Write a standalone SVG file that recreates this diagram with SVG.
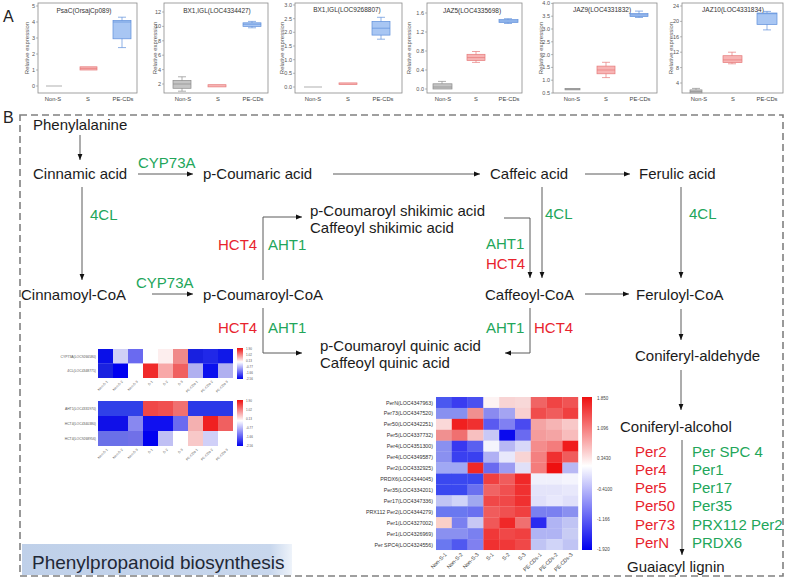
<svg xmlns="http://www.w3.org/2000/svg" width="788" height="581" viewBox="0 0 788 581">
<style>
.t{font-family:"Liberation Sans",Arial,sans-serif}
.m{font-size:15px;fill:#1b1b1b}
.g{font-size:15px;fill:#22a65a}
.r{font-size:15px;fill:#e8232d}
.pl{font-size:16px;fill:#222}
.ax{font-size:5.5px;fill:#555}
.axe{font-size:5.5px;fill:#555;text-anchor:end}
.axm{font-size:5.8px;fill:#444;text-anchor:middle}
.ttl{font-size:6.5px;fill:#333;text-anchor:middle}
.yt{font-size:6px;fill:#555;text-anchor:middle}
.fr{fill:none;stroke:#8a8a8a;stroke-width:0.8}
.tk{stroke:#8a8a8a;stroke-width:0.6}
.bxg{fill:#c4c4c4;stroke:#8c8c8c;stroke-width:0.7}
.bxr{fill:#f7b4b4;stroke:#e67a7a;stroke-width:0.7}
.bxb{fill:#a8c6f3;stroke:#5f8fdb;stroke-width:0.7}
.wg{stroke:#8c8c8c;stroke-width:0.7;fill:none}
.wr{stroke:#e67a7a;stroke-width:0.7;fill:none}
.wb{stroke:#5f8fdb;stroke-width:0.7;fill:none}
.conn path{fill:none;stroke:#5a5a5a;stroke-width:1;marker-end:url(#ah)}
.hl{font-size:5.3px;fill:#333;text-anchor:end}
.hs{font-size:3.4px;fill:#555;text-anchor:end}
.cb{font-size:4.5px;fill:#444}
.cbs{font-size:3px;fill:#555}
</style>
<defs>
<marker id="ah" viewBox="0 0 10 10" refX="10" refY="5" markerWidth="6" markerHeight="6" orient="auto"><path d="M0,1 L10,5 L0,9z" fill="#111"/></marker>
<linearGradient id="cbar" x1="0" y1="0" x2="0" y2="1"><stop offset="0" stop-color="#ee1010"/><stop offset="0.45" stop-color="#ffffff"/><stop offset="1" stop-color="#0000ee"/></linearGradient>
<linearGradient id="lab" x1="0" y1="0" x2="1" y2="0"><stop offset="0" stop-color="#bfd0e9"/><stop offset="0.92" stop-color="#c8d7ed"/><stop offset="1" stop-color="#eef3fa"/></linearGradient>
</defs>
<rect width="788" height="581" fill="#fff"/>

<!-- Panel A -->
<text class="t pl" x="3" y="22">A</text>

<g id="box-psac" class="t">
<rect class="fr" x="38" y="3" width="99" height="90"/>
<text class="ttl" x="84" y="13">PsaC(OrsajCp089)</text>
<text class="yt" transform="translate(29,48) rotate(-90)">Relative expression</text>
<g class="tk"><line x1="36" y1="86" x2="38" y2="86"/><line x1="36" y1="70" x2="38" y2="70"/><line x1="36" y1="54" x2="38" y2="54"/><line x1="36" y1="38" x2="38" y2="38"/><line x1="36" y1="22" x2="38" y2="22"/><line x1="36" y1="6" x2="38" y2="6"/></g>
<text class="axe" x="35" y="88">0</text><text class="axe" x="35" y="72">1</text><text class="axe" x="35" y="56">2</text><text class="axe" x="35" y="40">3</text><text class="axe" x="35" y="24">4</text><text class="axe" x="35" y="8">5</text>
<line class="wg" x1="46" y1="86" x2="62" y2="86"/>
<rect class="bxr" x="80" y="66.8" width="17" height="3.2"/><line class="wr" x1="80" y1="68.4" x2="97" y2="68.4"/>
<path class="wb" d="M122,17.2V47.6M118,17.2H126M118,47.6H126"/>
<rect class="bxb" x="113" y="20.4" width="18" height="18.4"/><line class="wb" x1="113" y1="22" x2="131" y2="22"/>
<text class="axm" x="53" y="101">Non-S</text><text class="axm" x="88" y="101">S</text><text class="axm" x="123" y="101">PE-CDs</text>
</g>

<g id="box-bx1-4334427" class="t">
<rect class="fr" x="164" y="3" width="104" height="90"/>
<text class="ttl" x="217" y="13">BX1,IGL(LOC4334427)</text>
<text class="yt" transform="translate(157,48) rotate(-90)">Relative expression</text>
<g class="tk"><line x1="162" y1="84" x2="164" y2="84"/><line x1="162" y1="69.6" x2="164" y2="69.6"/><line x1="162" y1="55.2" x2="164" y2="55.2"/><line x1="162" y1="40.8" x2="164" y2="40.8"/><line x1="162" y1="26.4" x2="164" y2="26.4"/><line x1="162" y1="12" x2="164" y2="12"/></g>
<text class="axe" x="161" y="86">2</text><text class="axe" x="161" y="71.6">4</text><text class="axe" x="161" y="57.2">6</text><text class="axe" x="161" y="42.8">8</text><text class="axe" x="161" y="28.4">10</text><text class="axe" x="161" y="14">12</text>
<path class="wg" d="M182,76.8V91.2M178,76.8H186M178,91.2H186"/>
<rect class="bxg" x="173" y="80.4" width="18" height="7.9"/><line class="wg" x1="173" y1="84" x2="191" y2="84"/>
<rect class="bxr" x="208" y="84.7" width="18" height="2.2"/>
<path class="wb" d="M252,21.4V27.8M248,21.4H256M248,27.8H256"/>
<rect class="bxb" x="243" y="22.8" width="18" height="3.6"/><line class="wb" x1="243" y1="24.2" x2="261" y2="24.2"/>
<text class="axm" x="183" y="101">Non-S</text><text class="axm" x="218" y="101">S</text><text class="axm" x="253" y="101">PE-CDs</text>
</g>

<g id="box-bx1-9268807" class="t">
<rect class="fr" x="295" y="3" width="107" height="90"/>
<text class="ttl" x="347" y="12">BX1,IGL(LOC9268807)</text>
<text class="yt" transform="translate(284,48) rotate(-90)">Relative expression</text>
<g class="tk"><line x1="293" y1="87" x2="295" y2="87"/><line x1="293" y1="73.3" x2="295" y2="73.3"/><line x1="293" y1="59.7" x2="295" y2="59.7"/><line x1="293" y1="46" x2="295" y2="46"/><line x1="293" y1="32.3" x2="295" y2="32.3"/><line x1="293" y1="18.7" x2="295" y2="18.7"/><line x1="293" y1="5" x2="295" y2="5"/></g>
<text class="axe" x="292" y="89">0.0</text><text class="axe" x="292" y="75.3">0.5</text><text class="axe" x="292" y="61.7">1.0</text><text class="axe" x="292" y="48">1.5</text><text class="axe" x="292" y="34.3">2.0</text><text class="axe" x="292" y="20.7">2.5</text><text class="axe" x="292" y="7">3.0</text>
<line class="wg" x1="304" y1="87" x2="322" y2="87"/>
<rect class="bxr" x="339" y="82.9" width="18" height="1.6"/>
<path class="wb" d="M381,17.3V39.2M377,17.3H385M377,39.2H385"/>
<rect class="bxb" x="372" y="21.4" width="18" height="13.7"/><line class="wb" x1="372" y1="28.2" x2="390" y2="28.2"/>
<text class="axm" x="313" y="101">Non-S</text><text class="axm" x="348" y="101">S</text><text class="axm" x="383" y="101">PE-CDs</text>
</g>

<g id="box-jaz5" class="t">
<rect class="fr" x="427" y="3" width="95" height="90"/>
<text class="ttl" x="472" y="13">JAZ5(LOC4335698)</text>
<text class="yt" transform="translate(411,48) rotate(-90)">Relative expression</text>
<g class="tk"><line x1="425" y1="89" x2="427" y2="89"/><line x1="425" y1="70" x2="427" y2="70"/><line x1="425" y1="51" x2="427" y2="51"/><line x1="425" y1="32" x2="427" y2="32"/><line x1="425" y1="13" x2="427" y2="13"/></g>
<text class="axe" x="424" y="91">0.0</text><text class="axe" x="424" y="72">0.4</text><text class="axe" x="424" y="53">0.8</text><text class="axe" x="424" y="34">1.2</text><text class="axe" x="424" y="15">1.6</text>
<path class="wg" d="M442,81.4V83.8M438,81.4H446"/>
<rect class="bxg" x="433" y="83.8" width="19" height="5.2"/><line class="wg" x1="433" y1="87" x2="452" y2="87"/>
<path class="wr" d="M476,51.5V62.4M472,51.5H480M472,62.4H480"/>
<rect class="bxr" x="467" y="54.3" width="18" height="6.2"/><line class="wr" x1="467" y1="57.6" x2="485" y2="57.6"/>
<path class="wb" d="M508,18.7V23.5M504,18.7H512M504,23.5H512"/>
<rect class="bxb" x="499" y="19.6" width="19" height="2.9"/><line class="wb" x1="499" y1="21" x2="518" y2="21"/>
<text class="axm" x="443" y="101">Non-S</text><text class="axm" x="476" y="101">S</text><text class="axm" x="509" y="101">PE-CDs</text>
</g>

<g id="box-jaz9" class="t">
<rect class="fr" x="553" y="3" width="104" height="90"/>
<text class="ttl" x="602" y="12">JAZ9(LOC4331832)</text>
<text class="yt" transform="translate(543,48) rotate(-90)">Relative expression</text>
<g class="tk"><line x1="551" y1="93" x2="553" y2="93"/><line x1="551" y1="80.2" x2="553" y2="80.2"/><line x1="551" y1="67.4" x2="553" y2="67.4"/><line x1="551" y1="54.6" x2="553" y2="54.6"/><line x1="551" y1="41.8" x2="553" y2="41.8"/><line x1="551" y1="29" x2="553" y2="29"/><line x1="551" y1="16.2" x2="553" y2="16.2"/><line x1="551" y1="3.4" x2="553" y2="3.4"/></g>
<text class="axe" x="550" y="95">0.5</text><text class="axe" x="550" y="82.2">1.0</text><text class="axe" x="550" y="69.4">1.5</text><text class="axe" x="550" y="56.6">2.0</text><text class="axe" x="550" y="43.8">2.5</text><text class="axe" x="550" y="31">3.0</text><text class="axe" x="550" y="18.2">3.5</text><text class="axe" x="550" y="5.4">4.0</text>
<rect class="bxg" x="565" y="88.4" width="15" height="1.5"/><line class="wg" x1="565" y1="89.2" x2="580" y2="89.2"/>
<path class="wr" d="M606,62.3V77.6M602,62.3H610M602,77.6H610"/>
<rect class="bxr" x="597" y="66.1" width="18" height="7.7"/><line class="wr" x1="597" y1="70" x2="615" y2="70"/>
<path class="wb" d="M639,11.1V17.5M635,11.1H643M635,17.5H643"/>
<rect class="bxb" x="630" y="13.6" width="18" height="3"/><line class="wb" x1="630" y1="14.9" x2="648" y2="14.9"/>
<text class="axm" x="572" y="101">Non-S</text><text class="axm" x="606" y="101">S</text><text class="axm" x="640" y="101">PE-CDs</text>
</g>

<g id="box-jaz10" class="t">
<rect class="fr" x="682" y="3" width="101" height="90"/>
<text class="ttl" x="733" y="12">JAZ10(LOC4331834)</text>
<text class="yt" transform="translate(673,48) rotate(-90)">Relative expression</text>
<g class="tk"><line x1="680" y1="83" x2="682" y2="83"/><line x1="680" y1="67.6" x2="682" y2="67.6"/><line x1="680" y1="52.2" x2="682" y2="52.2"/><line x1="680" y1="36.8" x2="682" y2="36.8"/><line x1="680" y1="21.4" x2="682" y2="21.4"/><line x1="680" y1="6" x2="682" y2="6"/></g>
<text class="axe" x="679" y="85">4</text><text class="axe" x="679" y="69.6">8</text><text class="axe" x="679" y="54.2">12</text><text class="axe" x="679" y="38.8">16</text><text class="axe" x="679" y="23.4">20</text><text class="axe" x="679" y="8">24</text>
<path class="wg" d="M696,88.4V89.9M692,88.4H700"/>
<rect class="bxg" x="690" y="89.9" width="12" height="3"/><line class="wg" x1="690" y1="91.6" x2="702" y2="91.6"/>
<path class="wr" d="M732,52.2V63.8M728,52.2H736M728,63.8H736"/>
<rect class="bxr" x="723" y="55.7" width="19" height="6.9"/><line class="wr" x1="723" y1="59.9" x2="742" y2="59.9"/>
<path class="wb" d="M767,11.4V29.9M763,11.4H771M763,29.9H771"/>
<rect class="bxb" x="757" y="13" width="20" height="11.5"/><line class="wb" x1="757" y1="13.7" x2="777" y2="13.7"/>
<text class="axm" x="699" y="101">Non-S</text><text class="axm" x="733" y="101">S</text><text class="axm" x="767" y="101">PE-CDs</text>
</g>

<!-- Panel B -->
<text class="t pl" x="3" y="123">B</text>
<rect x="20" y="115" width="763" height="461" fill="none" stroke="#808080" stroke-width="1.6" stroke-dasharray="7 4"/>

<g id="label-box">
<rect x="22" y="544" width="270" height="31" fill="url(#lab)"/>
<text class="t" x="32" y="569" font-size="19" fill="#1f2836">Phenylpropanoid biosynthesis</text>
</g>

<g class="conn">
<path d="M80,135V160"/>
<path d="M138,174H193"/>
<path d="M333,174H480"/>
<path d="M585,174H630"/>
<path d="M82,187V280"/>
<path d="M542,187V278"/>
<path d="M681,187V278"/>
<path d="M152,294H193"/>
<path d="M263,280V217H302"/>
<path d="M504,218H530V278"/>
<path d="M585,294H629"/>
<path d="M263,308V353H302"/>
<path d="M530,308V353H505"/>
<path d="M681,309V340"/>
<path d="M681,370V410"/>
<path d="M682,440V555"/>
</g>

<g id="phenylalanine"><text class="t m" x="33" y="130">Phenylalanine</text></g>
<g id="cinnamic-acid"><text class="t m" x="33" y="179">Cinnamic acid</text></g>
<g id="p-coumaric-acid"><text class="t m" x="203" y="179">p-Coumaric acid</text></g>
<g id="caffeic-acid"><text class="t m" x="490" y="179">Caffeic acid</text></g>
<g id="ferulic-acid"><text class="t m" x="639" y="179">Ferulic acid</text></g>
<g id="cinnamoyl-coa"><text class="t m" x="21" y="300">Cinnamoyl-CoA</text></g>
<g id="p-coumaroyl-coa"><text class="t m" x="203" y="300">p-Coumaroyl-CoA</text></g>
<g id="caffeoyl-coa"><text class="t m" x="485" y="300">Caffeoyl-CoA</text></g>
<g id="feruloyl-coa"><text class="t m" x="636" y="300">Feruloyl-CoA</text></g>
<g id="shikimic"><text class="t m" x="310" y="216">p-Coumaroyl shikimic acid</text><text class="t m" x="310" y="233">Caffeoyl shikimic acid</text></g>
<g id="quinic"><text class="t m" x="320" y="351">p-Coumaroyl quinic acid</text><text class="t m" x="320" y="368">Caffeoyl quinic acid</text></g>
<g id="coniferyl-aldehyde"><text class="t m" x="635" y="361">Coniferyl-aldehyde</text></g>
<g id="coniferyl-alcohol"><text class="t m" x="620" y="432">Coniferyl-alcohol</text></g>
<g id="guaiacyl-lignin"><text class="t m" x="627" y="572">Guaiacyl lignin</text></g>

<g id="enzymes" class="t">
<text class="g" x="138" y="168">CYP73A</text>
<text class="g" x="136" y="288">CYP73A</text>
<text class="g" x="90" y="220">4CL</text>
<text class="g" x="545" y="219">4CL</text>
<text class="g" x="689" y="219">4CL</text>
<text class="r" x="218" y="250">HCT4</text><text class="g" x="268" y="250">AHT1</text>
<text class="g" x="486" y="249">AHT1</text><text class="r" x="486" y="269">HCT4</text>
<text class="r" x="218" y="333">HCT4</text><text class="g" x="268" y="333">AHT1</text>
<text class="g" x="486" y="333">AHT1</text><text class="r" x="534" y="333">HCT4</text>
</g>

<g id="peroxidases" class="t">
<text class="r" x="635" y="457">Per2</text><text class="r" x="635" y="475">Per4</text><text class="r" x="635" y="493">Per5</text><text class="r" x="635" y="511">Per50</text><text class="r" x="635" y="530">Per73</text><text class="r" x="635" y="548">PerN</text>
<text class="g" x="692" y="457">Per SPC 4</text><text class="g" x="692" y="475">Per1</text><text class="g" x="692" y="493">Per17</text><text class="g" x="692" y="511">Per35</text><text class="g" x="692" y="530">PRX112 Per2</text><text class="g" x="692" y="548">PRDX6</text>
</g>

<!-- Heatmap 1 -->
<g id="heatmap-cyp-4cl" class="t">
<rect x="98" y="349" width="15.2" height="14.7" fill="#0a10e8"/><rect x="113" y="349" width="15.2" height="14.7" fill="#d0d0f6"/><rect x="128" y="349" width="15.2" height="14.7" fill="#6a6af0"/><rect x="143" y="349" width="15.2" height="14.7" fill="#ffffff"/><rect x="158" y="349" width="15.2" height="14.7" fill="#fdeeee"/><rect x="173" y="349" width="15.2" height="14.7" fill="#f08a8a"/><rect x="188" y="349" width="15.2" height="14.7" fill="#1820e0"/><rect x="203" y="349" width="15.2" height="14.7" fill="#2028e8"/><rect x="218" y="349" width="15" height="14.7" fill="#1018e8"/>
<rect x="98" y="363.5" width="15.2" height="14.5" fill="#1a22e0"/><rect x="113" y="363.5" width="15.2" height="14.5" fill="#0000f0"/><rect x="128" y="363.5" width="15.2" height="14.5" fill="#ffffff"/><rect x="143" y="363.5" width="15.2" height="14.5" fill="#f02a2a"/><rect x="158" y="363.5" width="15.2" height="14.5" fill="#f8a8a8"/><rect x="173" y="363.5" width="15.2" height="14.5" fill="#f06060"/><rect x="188" y="363.5" width="15.2" height="14.5" fill="#b0b0f0"/><rect x="203" y="363.5" width="15.2" height="14.5" fill="#0a10ee"/><rect x="218" y="363.5" width="15" height="14.5" fill="#b0b0f0"/>
<text class="hs" x="96" y="358">CYP73A(LOC9266580)</text>
<text class="hs" x="96" y="372">4CL(LOC4348775)</text>
<rect x="237" y="348" width="6" height="31" fill="url(#cbar)"/>
<text class="cbs" x="246" y="350">1.90</text><text class="cbs" x="246" y="356">1.02</text><text class="cbs" x="246" y="362">0.13</text><text class="cbs" x="246" y="368">-0.77</text><text class="cbs" x="246" y="374">-1.66</text><text class="cbs" x="246" y="380">-2.56</text>
<g class="hs">
<text transform="translate(108,382) rotate(-45)">Non-S-1</text><text transform="translate(123,382) rotate(-45)">Non-S-2</text><text transform="translate(138,382) rotate(-45)">Non-S-3</text><text transform="translate(153,382) rotate(-45)">S-1</text><text transform="translate(168,382) rotate(-45)">S-2</text><text transform="translate(183,382) rotate(-45)">S-3</text><text transform="translate(198,382) rotate(-45)">PE-CDs-1</text><text transform="translate(213,382) rotate(-45)">PE-CDs-2</text><text transform="translate(228,382) rotate(-45)">PE-CDs-3</text>
</g>
</g>

<!-- Heatmap 2 -->
<g id="heatmap-aht-hct" class="t">
<rect x="98" y="401" width="15.2" height="15.2" fill="#3040e8"/><rect x="113" y="401" width="15.2" height="15.2" fill="#3040e8"/><rect x="128" y="401" width="15.2" height="15.2" fill="#3040e8"/><rect x="143" y="401" width="15.2" height="15.2" fill="#f04848"/><rect x="158" y="401" width="15.2" height="15.2" fill="#f05050"/><rect x="173" y="401" width="15.2" height="15.2" fill="#f07070"/><rect x="188" y="401" width="15.2" height="15.2" fill="#2a38e8"/><rect x="203" y="401" width="15.2" height="15.2" fill="#2a38e8"/><rect x="218" y="401" width="15" height="15.2" fill="#2a38e8"/>
<rect x="98" y="416" width="15.2" height="15.2" fill="#1010e8"/><rect x="113" y="416" width="15.2" height="15.2" fill="#1010e8"/><rect x="128" y="416" width="15.2" height="15.2" fill="#8888f0"/><rect x="143" y="416" width="15.2" height="15.2" fill="#1010f0"/><rect x="158" y="416" width="15.2" height="15.2" fill="#1010f0"/><rect x="173" y="416" width="15.2" height="15.2" fill="#6a6af0"/><rect x="188" y="416" width="15.2" height="15.2" fill="#f4b0b0"/><rect x="203" y="416" width="15.2" height="15.2" fill="#f02020"/><rect x="218" y="416" width="15" height="15.2" fill="#f06060"/>
<rect x="98" y="431" width="15.2" height="15" fill="#6a70e8"/><rect x="113" y="431" width="15.2" height="15" fill="#6a70e8"/><rect x="128" y="431" width="15.2" height="15" fill="#7070e8"/><rect x="143" y="431" width="15.2" height="15" fill="#0000f0"/><rect x="158" y="431" width="15.2" height="15" fill="#c0c0f4"/><rect x="173" y="431" width="15.2" height="15" fill="#ffffff"/><rect x="188" y="431" width="15.2" height="15" fill="#f8c8c8"/><rect x="203" y="431" width="15.2" height="15" fill="#d0d0f8"/><rect x="218" y="431" width="15" height="15" fill="#ffffff"/>
<text class="hs" x="96" y="410">AHT1(LOC4331970)</text>
<text class="hs" x="96" y="425">HCT4(LOC4340380)</text>
<text class="hs" x="96" y="440">HCT4(LOC9268956)</text>
<rect x="237" y="400" width="6" height="46" fill="url(#cbar)"/>
<text class="cbs" x="246" y="402">1.90</text><text class="cbs" x="246" y="411">1.02</text><text class="cbs" x="246" y="420">0.13</text><text class="cbs" x="246" y="429">-0.77</text><text class="cbs" x="246" y="438">-1.66</text><text class="cbs" x="246" y="447">-2.56</text>
<g class="hs">
<text transform="translate(108,450) rotate(-45)">Non-S-1</text><text transform="translate(123,450) rotate(-45)">Non-S-2</text><text transform="translate(138,450) rotate(-45)">Non-S-3</text><text transform="translate(153,450) rotate(-45)">S-1</text><text transform="translate(168,450) rotate(-45)">S-2</text><text transform="translate(183,450) rotate(-45)">S-3</text><text transform="translate(198,450) rotate(-45)">PE-CDs-1</text><text transform="translate(213,450) rotate(-45)">PE-CDs-2</text><text transform="translate(228,450) rotate(-45)">PE-CDs-3</text>
</g>
</g>

<!-- Heatmap 3 -->
<g id="heatmap-per" class="t">
<g id="hm3-cells">
<rect x="436" y="397" width="16" height="11.1" fill="#4a58f0"/><rect x="451.8" y="397" width="16" height="11.1" fill="#3a3cf0"/><rect x="467.6" y="397" width="16" height="11.1" fill="#4a50f0"/><rect x="483.4" y="397" width="16" height="11.1" fill="#fdf3f3"/><rect x="499.2" y="397" width="16" height="11.1" fill="#f8d4d4"/><rect x="515" y="397" width="16" height="11.1" fill="#f8d8d8"/><rect x="530.8" y="397" width="16" height="11.1" fill="#f06464"/><rect x="546.6" y="397" width="16" height="11.1" fill="#f04444"/><rect x="562.4" y="397" width="15.8" height="11.1" fill="#f05454"/>
<rect x="436" y="407.93" width="16" height="11.1" fill="#8890f0"/><rect x="451.8" y="407.93" width="16" height="11.1" fill="#8890f0"/><rect x="467.6" y="407.93" width="16" height="11.1" fill="#f09090"/><rect x="483.4" y="407.93" width="16" height="11.1" fill="#8a8af0"/><rect x="499.2" y="407.93" width="16" height="11.1" fill="#a4a4f2"/><rect x="515" y="407.93" width="16" height="11.1" fill="#f8d0d0"/><rect x="530.8" y="407.93" width="16" height="11.1" fill="#f04c4c"/><rect x="546.6" y="407.93" width="16" height="11.1" fill="#f05c5c"/><rect x="562.4" y="407.93" width="15.8" height="11.1" fill="#f04040"/>
<rect x="436" y="418.86" width="16" height="11.1" fill="#fad8d8"/><rect x="451.8" y="418.86" width="16" height="11.1" fill="#f02020"/><rect x="467.6" y="418.86" width="16" height="11.1" fill="#f03030"/><rect x="483.4" y="418.86" width="16" height="11.1" fill="#5a5af0"/><rect x="499.2" y="418.86" width="16" height="11.1" fill="#8080f2"/><rect x="515" y="418.86" width="16" height="11.1" fill="#4a4af0"/><rect x="530.8" y="418.86" width="16" height="11.1" fill="#f4a4a4"/><rect x="546.6" y="418.86" width="16" height="11.1" fill="#f6b4b4"/><rect x="562.4" y="418.86" width="15.8" height="11.1" fill="#f8c8c8"/>
<rect x="436" y="429.79" width="16" height="11.1" fill="#f09090"/><rect x="451.8" y="429.79" width="16" height="11.1" fill="#f07070"/><rect x="467.6" y="429.79" width="16" height="11.1" fill="#f8c0c0"/><rect x="483.4" y="429.79" width="16" height="11.1" fill="#c8c8f6"/><rect x="499.2" y="429.79" width="16" height="11.1" fill="#0a0aee"/><rect x="515" y="429.79" width="16" height="11.1" fill="#6a6af0"/><rect x="530.8" y="429.79" width="16" height="11.1" fill="#f49c9c"/><rect x="546.6" y="429.79" width="16" height="11.1" fill="#f4a4a4"/><rect x="562.4" y="429.79" width="15.8" height="11.1" fill="#f8bcbc"/>
<rect x="436" y="440.72" width="16" height="11.1" fill="#8a90f0"/><rect x="451.8" y="440.72" width="16" height="11.1" fill="#3838f0"/><rect x="467.6" y="440.72" width="16" height="11.1" fill="#5a60f0"/><rect x="483.4" y="440.72" width="16" height="11.1" fill="#f4f4fc"/><rect x="499.2" y="440.72" width="16" height="11.1" fill="#b8b8f4"/><rect x="515" y="440.72" width="16" height="11.1" fill="#d8d8f8"/><rect x="530.8" y="440.72" width="16" height="11.1" fill="#f48c8c"/><rect x="546.6" y="440.72" width="16" height="11.1" fill="#f47c7c"/><rect x="562.4" y="440.72" width="15.8" height="11.1" fill="#f01c1c"/>
<rect x="436" y="451.65" width="16" height="11.1" fill="#8a90f0"/><rect x="451.8" y="451.65" width="16" height="11.1" fill="#3a40f0"/><rect x="467.6" y="451.65" width="16" height="11.1" fill="#3a40f0"/><rect x="483.4" y="451.65" width="16" height="11.1" fill="#b0b0f4"/><rect x="499.2" y="451.65" width="16" height="11.1" fill="#e8e8fb"/><rect x="515" y="451.65" width="16" height="11.1" fill="#f8d4d4"/><rect x="530.8" y="451.65" width="16" height="11.1" fill="#f48080"/><rect x="546.6" y="451.65" width="16" height="11.1" fill="#f03030"/><rect x="562.4" y="451.65" width="15.8" height="11.1" fill="#f05c5c"/>
<rect x="436" y="462.58" width="16" height="11.1" fill="#a0a8f4"/><rect x="451.8" y="462.58" width="16" height="11.1" fill="#a0a8f4"/><rect x="467.6" y="462.58" width="16" height="11.1" fill="#f02828"/><rect x="483.4" y="462.58" width="16" height="11.1" fill="#6a6af0"/><rect x="499.2" y="462.58" width="16" height="11.1" fill="#9c9cf2"/><rect x="515" y="462.58" width="16" height="11.1" fill="#e0e0f8"/><rect x="530.8" y="462.58" width="16" height="11.1" fill="#f47c7c"/><rect x="546.6" y="462.58" width="16" height="11.1" fill="#ee1010"/><rect x="562.4" y="462.58" width="15.8" height="11.1" fill="#b8b8f4"/>
<rect x="436" y="473.51" width="16" height="11.1" fill="#3a48f0"/><rect x="451.8" y="473.51" width="16" height="11.1" fill="#3a48f0"/><rect x="467.6" y="473.51" width="16" height="11.1" fill="#3a48f0"/><rect x="483.4" y="473.51" width="16" height="11.1" fill="#f04040"/><rect x="499.2" y="473.51" width="16" height="11.1" fill="#f05c5c"/><rect x="515" y="473.51" width="16" height="11.1" fill="#f02828"/><rect x="530.8" y="473.51" width="16" height="11.1" fill="#f0f0fc"/><rect x="546.6" y="473.51" width="16" height="11.1" fill="#f0f0fc"/><rect x="562.4" y="473.51" width="15.8" height="11.1" fill="#f4f4fd"/>
<rect x="436" y="484.44" width="16" height="11.1" fill="#3a48f0"/><rect x="451.8" y="484.44" width="16" height="11.1" fill="#3a48f0"/><rect x="467.6" y="484.44" width="16" height="11.1" fill="#6a70f0"/><rect x="483.4" y="484.44" width="16" height="11.1" fill="#f06464"/><rect x="499.2" y="484.44" width="16" height="11.1" fill="#f05050"/><rect x="515" y="484.44" width="16" height="11.1" fill="#f03030"/><rect x="530.8" y="484.44" width="16" height="11.1" fill="#e4e4fa"/><rect x="546.6" y="484.44" width="16" height="11.1" fill="#e4e4fa"/><rect x="562.4" y="484.44" width="15.8" height="11.1" fill="#e8e8fb"/>
<rect x="436" y="495.37" width="16" height="11.1" fill="#c0c4f4"/><rect x="451.8" y="495.37" width="16" height="11.1" fill="#d0d4f8"/><rect x="467.6" y="495.37" width="16" height="11.1" fill="#a0a8f0"/><rect x="483.4" y="495.37" width="16" height="11.1" fill="#f04848"/><rect x="499.2" y="495.37" width="16" height="11.1" fill="#f04848"/><rect x="515" y="495.37" width="16" height="11.1" fill="#f03030"/><rect x="530.8" y="495.37" width="16" height="11.1" fill="#e0e0fa"/><rect x="546.6" y="495.37" width="16" height="11.1" fill="#e8e8fc"/><rect x="562.4" y="495.37" width="15.8" height="11.1" fill="#e0e0fa"/>
<rect x="436" y="506.3" width="16" height="11.1" fill="#6a78f0"/><rect x="451.8" y="506.3" width="16" height="11.1" fill="#6a78f0"/><rect x="467.6" y="506.3" width="16" height="11.1" fill="#6a70f0"/><rect x="483.4" y="506.3" width="16" height="11.1" fill="#f05c5c"/><rect x="499.2" y="506.3" width="16" height="11.1" fill="#f05050"/><rect x="515" y="506.3" width="16" height="11.1" fill="#f04040"/><rect x="530.8" y="506.3" width="16" height="11.1" fill="#7a80f0"/><rect x="546.6" y="506.3" width="16" height="11.1" fill="#7a80f0"/><rect x="562.4" y="506.3" width="15.8" height="11.1" fill="#8a90f0"/>
<rect x="436" y="517.23" width="16" height="11.1" fill="#fad0c8"/><rect x="451.8" y="517.23" width="16" height="11.1" fill="#7a80f0"/><rect x="467.6" y="517.23" width="16" height="11.1" fill="#c8c8f4"/><rect x="483.4" y="517.23" width="16" height="11.1" fill="#f05858"/><rect x="499.2" y="517.23" width="16" height="11.1" fill="#f02828"/><rect x="515" y="517.23" width="16" height="11.1" fill="#f07070"/><rect x="530.8" y="517.23" width="16" height="11.1" fill="#2a2af0"/><rect x="546.6" y="517.23" width="16" height="11.1" fill="#b0b4f4"/><rect x="562.4" y="517.23" width="15.8" height="11.1" fill="#c0c4f4"/>
<rect x="436" y="528.16" width="16" height="11.1" fill="#8a90f0"/><rect x="451.8" y="528.16" width="16" height="11.1" fill="#8a90f0"/><rect x="467.6" y="528.16" width="16" height="11.1" fill="#7a80f0"/><rect x="483.4" y="528.16" width="16" height="11.1" fill="#f03838"/><rect x="499.2" y="528.16" width="16" height="11.1" fill="#f04848"/><rect x="515" y="528.16" width="16" height="11.1" fill="#f04040"/><rect x="530.8" y="528.16" width="16" height="11.1" fill="#b0b4f4"/><rect x="546.6" y="528.16" width="16" height="11.1" fill="#b0b4f4"/><rect x="562.4" y="528.16" width="15.8" height="11.1" fill="#c8ccf4"/>
<rect x="436" y="539.09" width="16" height="10.93" fill="#6a78f0"/><rect x="451.8" y="539.09" width="16" height="10.93" fill="#5058f0"/><rect x="467.6" y="539.09" width="16" height="10.93" fill="#8080f0"/><rect x="483.4" y="539.09" width="16" height="10.93" fill="#f03030"/><rect x="499.2" y="539.09" width="16" height="10.93" fill="#f03838"/><rect x="515" y="539.09" width="16" height="10.93" fill="#f04848"/><rect x="530.8" y="539.09" width="16" height="10.93" fill="#c0c4f4"/><rect x="546.6" y="539.09" width="16" height="10.93" fill="#d0d4f8"/><rect x="562.4" y="539.09" width="15.8" height="10.93" fill="#c0c4f4"/>
</g>
<text class="hl" x="433" y="404.5">PerN(LOC4347963)</text>
<text class="hl" x="433" y="415.4">Per73(LOC4347520)</text>
<text class="hl" x="433" y="426.3">Per50(LOC4342251)</text>
<text class="hl" x="433" y="437.3">Per5(LOC4337732)</text>
<text class="hl" x="433" y="448.2">Per4(LOC4351300)</text>
<text class="hl" x="433" y="459.1">Per4(LOC4349587)</text>
<text class="hl" x="433" y="470.1">Per2(LOC4332925)</text>
<text class="hl" x="433" y="481">PRDX6(LOC4344045)</text>
<text class="hl" x="433" y="491.9">Per35(LOC4334201)</text>
<text class="hl" x="433" y="502.8">Per17(LOC4347336)</text>
<text class="hl" x="433" y="513.8">PRX112 Per2(LOC4344279)</text>
<text class="hl" x="433" y="524.7">Per1(LOC4327002)</text>
<text class="hl" x="433" y="535.6">Per1(LOC4326969)</text>
<text class="hl" x="433" y="546.6">Per SPC4(LOC4324556)</text>
<rect x="582" y="397" width="10" height="153" fill="url(#cbar)"/>
<text class="cb" x="597" y="400">1.850</text><text class="cb" x="597" y="430">1.096</text><text class="cb" x="597" y="460">0.3430</text><text class="cb" x="597" y="491">-0.4100</text><text class="cb" x="597" y="521">-1.166</text><text class="cb" x="597" y="551">-1.920</text>
<g class="hl" font-size="4.8">
<text transform="translate(447,555) rotate(-45)">Non-S-1</text><text transform="translate(463,555) rotate(-45)">Non-S-2</text><text transform="translate(479,555) rotate(-45)">Non-S-3</text><text transform="translate(494,555) rotate(-45)">S-1</text><text transform="translate(510,555) rotate(-45)">S-2</text><text transform="translate(526,555) rotate(-45)">S-3</text><text transform="translate(542,555) rotate(-45)">PE-CDs-1</text><text transform="translate(558,555) rotate(-45)">PE-CDs-2</text><text transform="translate(573,555) rotate(-45)">PE-CDs-3</text>
</g>
</g>
</svg>
